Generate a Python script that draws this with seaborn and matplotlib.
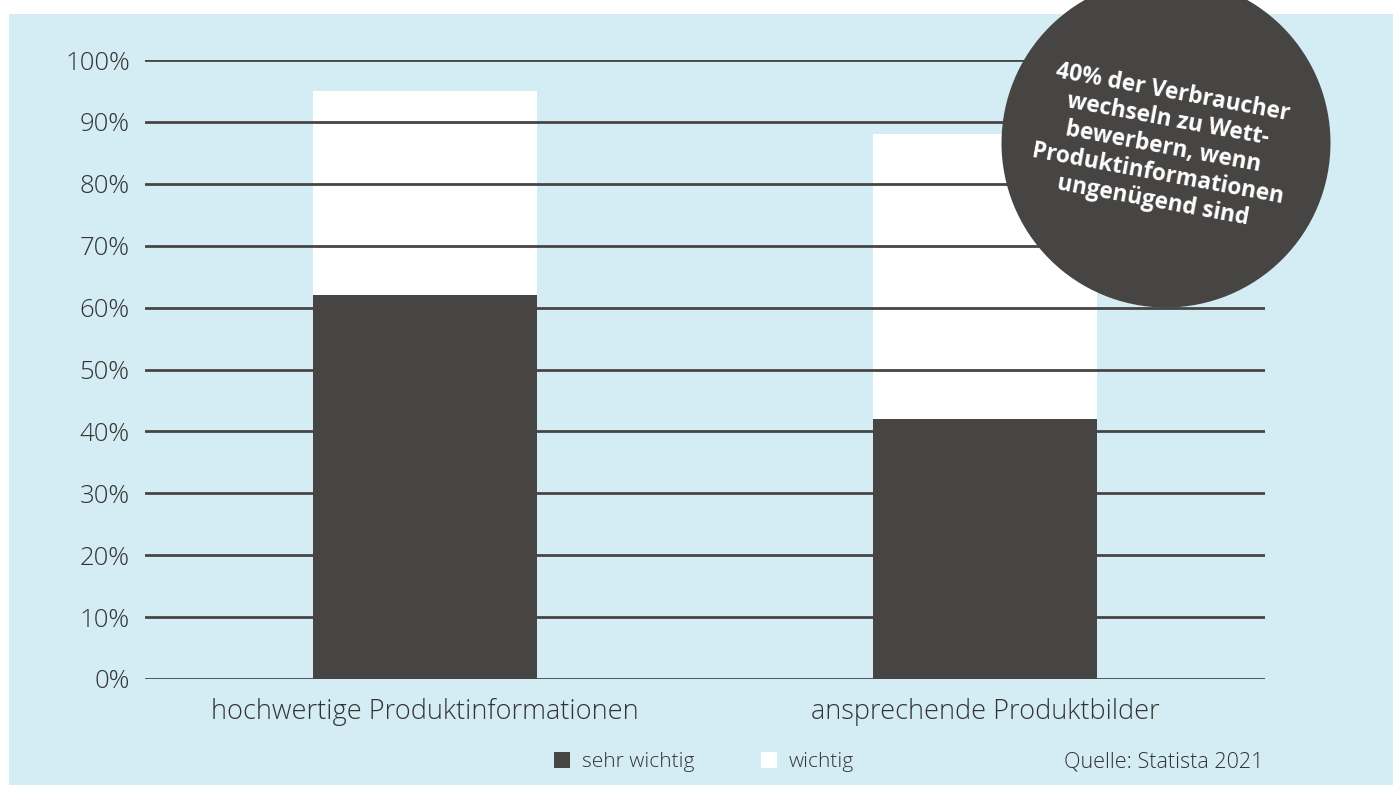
import numpy as np
import matplotlib.pyplot as plt
import seaborn as sns
import pandas as pd
from matplotlib.patches import Circle, Patch

categories = ['hochwertige Produktinformationen', 'ansprechende Produktbilder']
sehr_wichtig = [62, 42]
gesamt = [95, 88]   # sehr wichtig + wichtig
yticks = [0, 10, 20, 30, 40, 50, 60, 70, 80, 90, 100]
ytick_labels = [f'{t}%' for t in yticks]
legend_labels = ['sehr wichtig', 'wichtig']
source = 'Quelle: Statista 2021'
badge = '40% der Verbraucher\nwechseln zu Wett-\nbewerbern, wenn\nProduktinformationen\nungenügend sind'

dark = '#474543'
blue = '#d4ecf4'
txt = '#333333'

sns.set_style('white')
plt.rcParams['font.family'] = ['Open Sans', 'DejaVu Sans']

df = pd.DataFrame({'kategorie': categories, 'sehr': sehr_wichtig, 'gesamt': gesamt})

fig = plt.figure(figsize=(13.93, 7.85), dpi=100)
fig.patch.set_facecolor('white')
# light blue panel, small white margin top/left
fig.add_artist(plt.Rectangle((9 / 1393, 0), 1, 1 - 14 / 785, transform=fig.transFigure,
                             facecolor=blue, edgecolor='none', zorder=0))

ax = fig.add_axes([145 / 1393, 1 - 679 / 785, 1120 / 1393, 619 / 785])
ax.set_facecolor('none')

sns.barplot(data=df, x='kategorie', y='gesamt', color='white', width=0.4,
            saturation=1, ax=ax, linewidth=0)
sns.barplot(data=df, x='kategorie', y='sehr', color=dark, width=0.4,
            saturation=1, ax=ax, linewidth=0)

ax.set_xlim(-0.5, 1.5)
ax.set_ylim(0, 100)
ax.set_yticks(yticks)
ax.set_yticklabels(ytick_labels)
ax.set_xlabel('')
ax.set_ylabel('')
ax.yaxis.grid(True, color=dark, linewidth=2)
ax.set_axisbelow(False)
for s in ax.spines.values():
    s.set_visible(False)
ax.tick_params(axis='y', length=0, pad=11, labelsize=18.5, labelcolor=txt)
ax.tick_params(axis='x', length=0, pad=14, labelsize=19.5, labelcolor=txt)
for lab in ax.get_xticklabels() + ax.get_yticklabels():
    lab.set_fontweight('light')

# legend + source
handles = [Patch(facecolor=dark, edgecolor='none'), Patch(facecolor='white', edgecolor='none')]
leg = fig.legend(handles, legend_labels, loc='center', bbox_to_anchor=(704 / 1393, 1 - 762 / 785),
                 ncol=2, frameon=False, fontsize=15, handlelength=0.78, handleheight=0.78,
                 handletextpad=0.55, columnspacing=3.2, labelcolor=txt,
                 prop={'weight': 'light', 'size': 15})
fig.text(1263 / 1393, 1 - 762 / 785, source, ha='right', va='center', fontsize=15.5,
         color=txt, fontweight='light')

# round badge
fig.add_artist(Circle((11.66, 7.85 - 1.43), 1.645, transform=fig.dpi_scale_trans,
                      facecolor=dark, edgecolor='none', zorder=5, clip_on=False))
fig.text(1163 / 1393, 1 - 147 / 785, badge, ha='center', va='center', rotation=-10.5,
         rotation_mode='anchor', color='white', fontsize=16.3, fontweight='bold',
         linespacing=1.2, zorder=6, multialignment='center')

plt.savefig('out.png', dpi=100, facecolor=fig.get_facecolor())
